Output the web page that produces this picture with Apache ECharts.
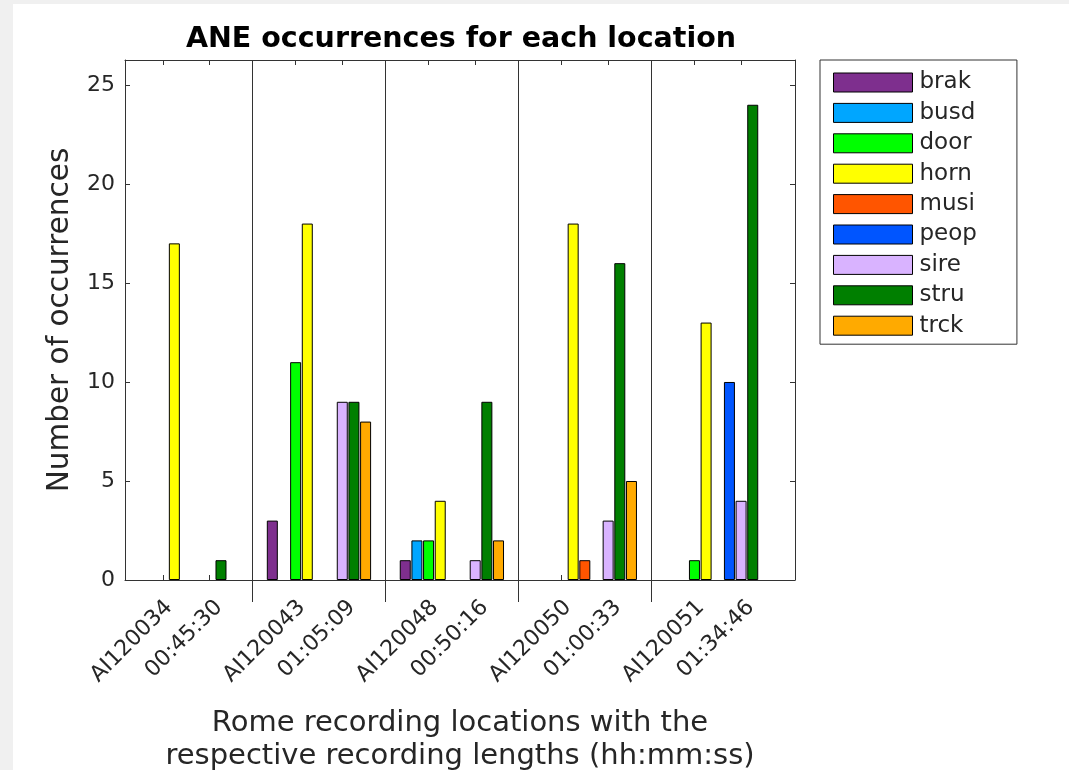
<!DOCTYPE html>
<html>
<head>
<meta charset="utf-8">
<title>ANE occurrences for each location</title>
<script src="https://cdn.jsdelivr.net/npm/echarts@6/dist/echarts.min.js"></script>
<style>
  html, body { margin: 0; padding: 0; background: #ffffff; }
  #chart { width: 1069px; height: 770px; }
</style>
</head>
<body>
<div id="chart"></div>
<script>
// Recording locations (one group of bars each) and their recording lengths
const locations = ['AI120034', 'AI120043', 'AI120048', 'AI120050', 'AI120051'];
const durations = ['00:45:30', '01:05:09', '00:50:16', '01:00:33', '01:34:46'];

// Event classes, in legend order
const classes = ['brak', 'busd', 'door', 'horn', 'musi', 'peop', 'sire', 'stru', 'trck'];

// Occurrence counts per class, one value per location
const brak = [0, 3, 1, 0, 0];
const busd = [0, 0, 2, 0, 0];
const door = [0, 11, 2, 0, 1];
const horn = [17, 18, 4, 18, 13];
const musi = [0, 0, 0, 1, 0];
const peop = [0, 0, 0, 0, 10];
const sire = [0, 9, 1, 3, 4];
const stru = [1, 9, 9, 16, 24];
const trck = [0, 8, 2, 5, 0];

// Y-axis tick values
const yTicks = [0, 5, 10, 15, 20, 25];

const counts = { brak, busd, door, horn, musi, peop, sire, stru, trck };
const colors = {
  brak: '#7E2F8E', busd: '#00A6FF', door: '#00FF00', horn: '#FFFF00', musi: '#FF5500',
  peop: '#0055FF', sire: '#D9B3FF', stru: '#007F00', trck: '#FFAA00'
};

// Group i sits at x = i + 1; two ticks sit either side of the group centre,
// and the rotated labels hang just to the right of them
const TICK_SHIFT = 0.175;
const LABEL_SHIFT = 0.188;
const LABEL_NUDGE = 0.06;
const groupPos = locations.map((_, i) => i + 1);
const tickPos = [];
const labelPos = [];
const labelText = [];
groupPos.forEach((x, i) => {
  tickPos.push(x - TICK_SHIFT, x + TICK_SHIFT);
  labelPos.push(x + LABEL_NUDGE - LABEL_SHIFT, x + LABEL_NUDGE + LABEL_SHIFT);
  labelText.push(locations[i], durations[i]);
});
const dividers = groupPos.slice(0, -1).map(x => x + 0.5);

const X_MIN = 0.541, X_MAX = 5.581, Y_MAX = 26.26;
const AXIS_COLOR = '#333333';
const TEXT_COLOR = '#262626';
const FONT = 'DejaVu Sans';

const labelFor = v => {
  const k = labelPos.findIndex(p => Math.abs(p - v) < 1e-6);
  return k < 0 ? '' : labelText[k];
};

const chart = echarts.init(document.getElementById('chart'), null, { renderer: 'canvas' });

chart.setOption({
  animation: false,
  backgroundColor: '#ffffff',
  graphic: [
    { type: 'rect', left: 0, top: 0, shape: { width: 13, height: 770 }, style: { fill: '#f0f0f0' }, silent: true },
    { type: 'rect', left: 0, top: 0, shape: { width: 1069, height: 4 }, style: { fill: '#f0f0f0' }, silent: true }
  ],
  title: {
    text: 'ANE occurrences for each location',
    left: 461,
    top: 25,
    padding: 0,
    textAlign: 'center',
    textStyle: { fontFamily: FONT, fontWeight: 'bold', fontSize: 28.5, color: '#000000' }
  },
  legend: {
    orient: 'vertical',
    left: 820,
    top: 60,
    padding: [11, 40, 7, 13],
    itemWidth: 79,
    itemHeight: 19,
    itemGap: 7.4,
    icon: 'rect',
    borderColor: AXIS_COLOR,
    borderWidth: 1,
    backgroundColor: '#ffffff',
    itemStyle: { borderColor: '#000000', borderWidth: 1 },
    textStyle: { fontFamily: FONT, fontSize: 23, color: TEXT_COLOR, padding: [0, 0, 0, 2] },
    data: classes
  },
  grid: { left: 125, right: 274, top: 60, bottom: 190, containLabel: false, outerBoundsMode: 'none' },
  xAxis: [
    {
      type: 'value',
      position: 'bottom',
      min: X_MIN,
      max: X_MAX,
      name: 'Rome recording locations with the\nrespective recording lengths (hh:mm:ss)',
      nameLocation: 'middle',
      nameGap: 127,
      nameTextStyle: { fontFamily: FONT, fontSize: 29, lineHeight: 33, color: TEXT_COLOR },
      axisLine: { show: true, onZero: false, lineStyle: { color: AXIS_COLOR, width: 1 } },
      axisTick: { show: true, inside: true, length: 5, customValues: tickPos, lineStyle: { color: AXIS_COLOR } },
      axisLabel: {
        show: true,
        customValues: labelPos,
        rotate: 45,
        margin: 24,
        formatter: labelFor,
        fontFamily: FONT,
        fontSize: 22,
        color: TEXT_COLOR
      },
      splitLine: { show: false }
    },
    {
      // group dividers: full-height lines that also run below the axis
      type: 'value',
      position: 'bottom',
      min: X_MIN,
      max: X_MAX,
      axisLine: { show: false },
      axisTick: { show: true, inside: false, length: 22, customValues: dividers, lineStyle: { color: AXIS_COLOR } },
      axisLabel: { show: false },
      splitLine: { show: true, lineStyle: { color: AXIS_COLOR, width: 1 } }
    },
    {
      type: 'value',
      position: 'top',
      min: X_MIN,
      max: X_MAX,
      axisLine: { show: true, onZero: false, lineStyle: { color: AXIS_COLOR, width: 1 } },
      axisTick: { show: true, inside: true, length: 5, customValues: tickPos, lineStyle: { color: AXIS_COLOR } },
      axisLabel: { show: false },
      splitLine: { show: false }
    }
  ],
  yAxis: [
    {
      type: 'value',
      position: 'left',
      min: 0,
      max: Y_MAX,
      name: 'Number of occurrences',
      nameLocation: 'middle',
      nameGap: 50,
      nameTextStyle: { fontFamily: FONT, fontSize: 29.5, color: TEXT_COLOR },
      axisLine: { show: true, onZero: false, lineStyle: { color: AXIS_COLOR, width: 1 } },
      axisTick: { show: true, inside: true, length: 5, customValues: yTicks, lineStyle: { color: AXIS_COLOR } },
      axisLabel: { show: true, customValues: yTicks, margin: 10, fontFamily: FONT, fontSize: 22, color: TEXT_COLOR },
      splitLine: { show: false }
    },
    {
      type: 'value',
      position: 'right',
      min: 0,
      max: Y_MAX,
      axisLine: { show: true, onZero: false, lineStyle: { color: AXIS_COLOR, width: 1 } },
      axisTick: { show: true, inside: true, length: 5, customValues: yTicks, lineStyle: { color: AXIS_COLOR } },
      axisLabel: { show: false },
      splitLine: { show: false }
    }
  ],
  series: classes.map(name => ({
    name,
    type: 'bar',
    xAxisIndex: 0,
    yAxisIndex: 0,
    barWidth: 11,
    barGap: '6%',
    itemStyle: { color: colors[name], borderColor: '#000000', borderWidth: 1 },
    emphasis: { disabled: true },
    // empty counts get no outline, so nothing is drawn along the baseline
    data: counts[name].map((v, i) => (
      v === 0
        ? { value: [groupPos[i], v], itemStyle: { borderWidth: 0 } }
        : [groupPos[i], v]
    ))
  }))
});
</script>
</body>
</html>
